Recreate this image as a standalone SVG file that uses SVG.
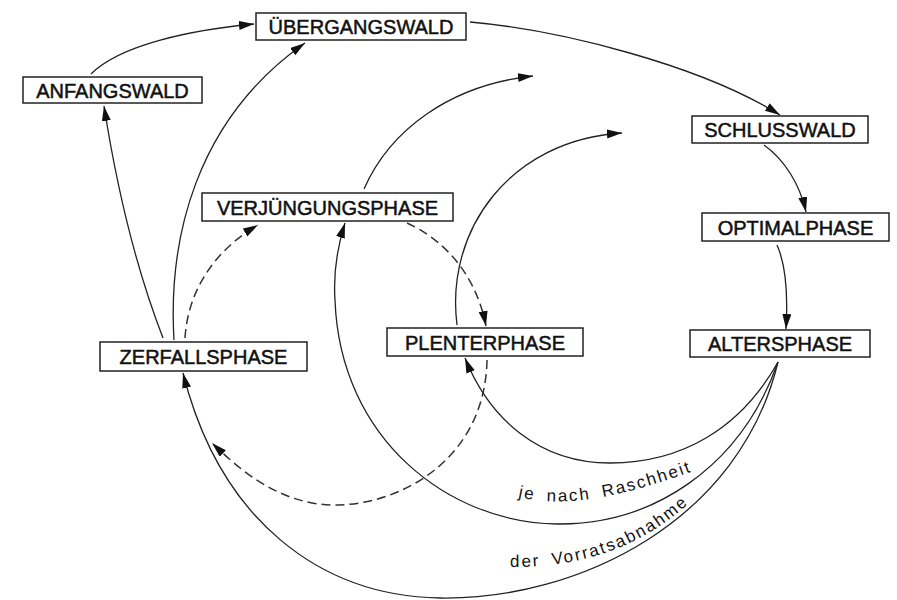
<svg xmlns="http://www.w3.org/2000/svg" width="897" height="600" viewBox="0 0 897 600">
<defs>
<style>
.box{fill:#fff;stroke:#222;stroke-width:1.5}
.lbl{font-family:"Liberation Sans",Arial,sans-serif;font-size:20px;fill:#111;stroke:#111;stroke-width:0.5;text-anchor:middle}
.c{fill:none;stroke:#222;stroke-width:1.3}
.d{fill:none;stroke:#333;stroke-width:1.5;stroke-dasharray:9 5}
.cap{font-family:"Liberation Sans",Arial,sans-serif;font-size:17px;fill:#111;letter-spacing:2px;word-spacing:5px}
</style>
<marker id="ah" markerUnits="userSpaceOnUse" markerWidth="16" markerHeight="10" refX="15" refY="4.5" orient="auto">
<path d="M0,0 L15,4.5 L0,9 z" fill="#111"/>
</marker>
<path id="t1" d="M518,497 C555,505 600,506 704,467"/>
<path id="t2" d="M510,567 Q632,568 706,486"/>
</defs>
<rect width="897" height="600" fill="#fff"/>
<g id="connectors">
<path class="c" d="M91,74 C120,45 190,30 254,24" marker-end="url(#ah)"/>
<path class="c" d="M163,338 Q125,240 104,106" marker-end="url(#ah)"/>
<path class="c" d="M174,340 C168,240 195,120 305,43" marker-end="url(#ah)"/>
<path class="d" d="M185,338 C188,290 215,250 258,225" marker-end="url(#ah)"/>
<path class="c" d="M470,22 C560,30 700,65 780,115" marker-end="url(#ah)"/>
<path class="c" d="M764,145 C785,160 800,185 806,212" marker-end="url(#ah)"/>
<path class="c" d="M777,245 C786,265 788,295 786,329" marker-end="url(#ah)"/>
<path class="d" d="M407,223 C440,238 475,270 486,326" marker-end="url(#ah)"/>
<path class="d" d="M487,360 C485,460 400,505 335,505 C280,505 240,470 212,443" marker-end="url(#ah)"/>
<path class="c" d="M364,189 C390,130 450,85 533,76" marker-end="url(#ah)"/>
<path class="c" d="M457,325 C445,230 510,140 622,133" marker-end="url(#ah)"/>
<path class="c" d="M778,362 C740,430 680,463 610,463 C540,463 490,420 465,358" marker-end="url(#ah)"/>
<path class="c" d="M778,362 C740,470 650,525 557,524 C450,523 340,440 335,300 C333,270 338,245 345,223" marker-end="url(#ah)"/>
<path class="c" d="M778,362 C740,520 580,600 440,598 C320,596 220,520 183,373" marker-end="url(#ah)"/>
</g>
<g id="uebergangswald"><rect class="box" x="256" y="13" width="210" height="27"/><text class="lbl" x="361" y="34">ÜBERGANGSWALD</text></g>
<g id="anfangswald"><rect class="box" x="23" y="77" width="179" height="26"/><text class="lbl" x="112.5" y="97.5">ANFANGSWALD</text></g>
<g id="schlusswald"><rect class="box" x="692" y="116" width="176" height="27"/><text class="lbl" x="780" y="137">SCHLUSSWALD</text></g>
<g id="optimalphase"><rect class="box" x="702" y="213" width="187" height="28"/><text class="lbl" x="795.5" y="234.5">OPTIMALPHASE</text></g>
<g id="altersphase"><rect class="box" x="690" y="330" width="180" height="27"/><text class="lbl" x="780" y="351">ALTERSPHASE</text></g>
<g id="verjuengungsphase"><rect class="box" x="202" y="193" width="251" height="28"/><text class="lbl" x="327.5" y="214.5">VERJÜNGUNGSPHASE</text></g>
<g id="zerfallsphase"><rect class="box" x="100" y="342" width="207" height="29"/><text class="lbl" x="203.5" y="364">ZERFALLSPHASE</text></g>
<g id="plenterphase"><rect class="box" x="387" y="328" width="196" height="28"/><text class="lbl" x="485" y="349.5">PLENTERPHASE</text></g>
<g id="labels">
<text class="cap"><textPath href="#t1">je nach Raschheit</textPath></text>
<text class="cap"><textPath href="#t2">der Vorratsabnahme</textPath></text>
</g>
</svg>
